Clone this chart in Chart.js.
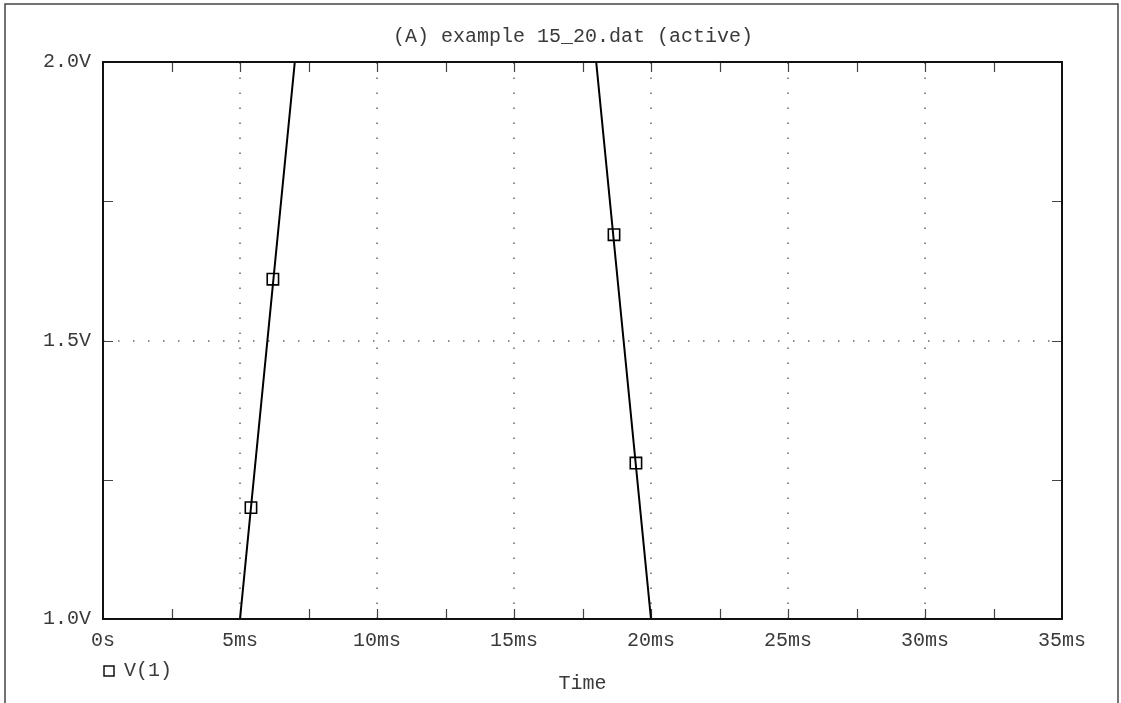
<!DOCTYPE html>
<html>
<head>
<meta charset="utf-8">
<script src="https://cdn.jsdelivr.net/npm/chart.js@4.4.1/dist/chart.umd.min.js"></script>
<style>
  html, body { margin: 0; padding: 0; background: #fff; }
  #wrap { width: 1121px; height: 703px; }
</style>
</head>
<body>
<div id="wrap"><canvas id="chart" width="1121" height="703"></canvas></div>
<script>
const titleText = '(A) example 15_20.dat (active)';
const xTitle = 'Time';
const seriesName = 'V(1)';

// trace breakpoints (time in ms, voltage in V)
const timeMs = [0, 5, 7, 18, 20, 35];
const volts = [1.0, 1.0, 2.0, 2.0, 1.0, 1.0];

// square symbols sitting on the trace
const markerTime = [5.4, 6.2, 18.65, 19.45];
const markerVolts = [1.2, 1.61, 1.69, 1.28];

// axes
const xMarks = [2.5, 5, 7.5, 10, 12.5, 15, 17.5, 20, 22.5, 25, 27.5, 30, 32.5];
const xGrid = [5, 10, 15, 20, 25, 30];
const yMarks = [1.25, 1.5, 1.75];
const yGrid = [1.5];

const FONT = 'Liberation Mono, Courier New, monospace';
const TEXT = '#3a3a3a';

const guides = {
  id: 'guides',
  beforeDatasetsDraw(chart) {
    const { ctx, chartArea: a, scales: { x, y } } = chart;
    ctx.save();
    // dotted grid
    ctx.strokeStyle = '#666';
    ctx.lineWidth = 1.5;
    ctx.setLineDash([1.5, 13.5]);
    xGrid.forEach(v => {
      const px = Math.round(x.getPixelForValue(v));
      ctx.beginPath();
      ctx.moveTo(px, a.bottom);
      ctx.lineTo(px, a.top);
      ctx.stroke();
    });
    yGrid.forEach(v => {
      const py = Math.round(y.getPixelForValue(v));
      ctx.beginPath();
      ctx.moveTo(a.left, py);
      ctx.lineTo(a.right, py);
      ctx.stroke();
    });
    // small tick marks on all four sides
    ctx.setLineDash([]);
    ctx.strokeStyle = '#444';
    ctx.lineWidth = 1.2;
    xMarks.forEach(v => {
      const px = Math.round(x.getPixelForValue(v)) + 0.5;
      ctx.beginPath();
      ctx.moveTo(px, a.bottom); ctx.lineTo(px, a.bottom - 10);
      ctx.moveTo(px, a.top); ctx.lineTo(px, a.top + 10);
      ctx.stroke();
    });
    yMarks.forEach(v => {
      const py = Math.round(y.getPixelForValue(v)) + 0.5;
      ctx.beginPath();
      ctx.moveTo(a.left, py); ctx.lineTo(a.left + 10, py);
      ctx.moveTo(a.right, py); ctx.lineTo(a.right - 10, py);
      ctx.stroke();
    });
    ctx.restore();
  },
  afterDatasetsDraw(chart) {
    const { ctx, chartArea: a } = chart;
    ctx.save();
    // plot frame
    ctx.strokeStyle = '#111';
    ctx.lineWidth = 2;
    ctx.strokeRect(a.left, a.top, a.right - a.left, a.bottom - a.top);
    // outer window frame
    ctx.strokeStyle = '#444';
    ctx.lineWidth = 1.5;
    ctx.strokeRect(5, 4, 1113, 720);
    // title
    ctx.fillStyle = TEXT;
    ctx.font = '20px ' + FONT;
    ctx.textAlign = 'center';
    ctx.textBaseline = 'middle';
    ctx.fillText(titleText, 573, 37);
    // x axis title
    ctx.fillText(xTitle, (a.left + a.right) / 2, 684);
    // legend
    ctx.strokeStyle = '#111';
    ctx.lineWidth = 1.5;
    ctx.strokeRect(104, 666, 10, 10);
    ctx.textAlign = 'left';
    ctx.fillText(seriesName, 124, 671);
    ctx.restore();
  }
};

new Chart(document.getElementById('chart'), {
  type: 'scatter',
  data: {
    datasets: [
      {
        label: seriesName,
        data: timeMs.map((t, i) => ({ x: t, y: volts[i] })),
        showLine: true,
        borderColor: '#000',
        borderWidth: 2,
        pointRadius: 0,
        tension: 0,
      },
      {
        label: seriesName + ' markers',
        data: markerTime.map((t, i) => ({ x: t, y: markerVolts[i] })),
        showLine: false,
        pointStyle: 'rect',
        pointRadius: 8,
        pointBorderWidth: 1.6,
        borderColor: '#000',
        backgroundColor: 'rgba(0,0,0,0)',
      },
    ],
  },
  options: {
    responsive: false,
    animation: false,
    layout: { padding: { left: 0, top: 62, right: 59, bottom: 0 } },
    plugins: { legend: { display: false }, tooltip: { enabled: false } },
    scales: {
      x: {
        type: 'linear',
        min: 0,
        max: 35,
        afterFit: s => { s.height = 84; },
        grid: { display: false, drawTicks: false },
        border: { display: false },
        ticks: {
          stepSize: 5,
          padding: 10,
          color: TEXT,
          font: { family: FONT, size: 20 },
          maxRotation: 0,
          callback: v => (v === 0 ? '0s' : v + 'ms'),
        },
      },
      y: {
        type: 'linear',
        min: 1,
        max: 2,
        afterFit: s => { s.width = 103; },
        grid: { display: false, drawTicks: false },
        border: { display: false },
        ticks: {
          stepSize: 0.5,
          padding: 12,
          color: TEXT,
          font: { family: FONT, size: 20 },
          callback: v => v.toFixed(1) + 'V',
        },
      },
    },
  },
  plugins: [guides],
});
</script>
</body>
</html>
